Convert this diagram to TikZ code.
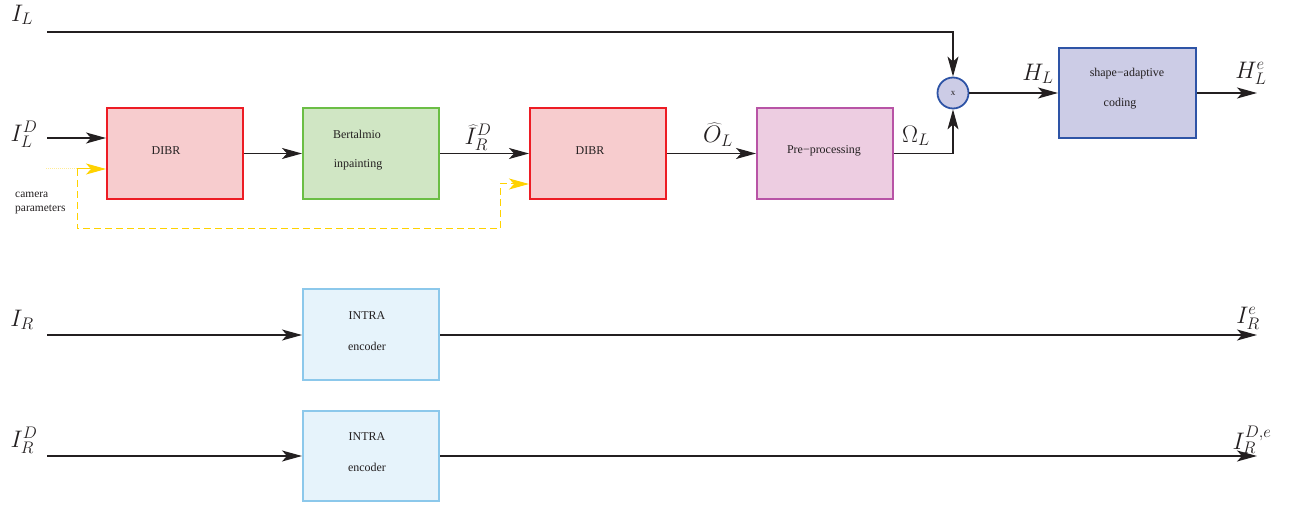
\documentclass[tikz,border=0pt]{standalone}
\usepackage{fix-cm}
\usepackage{fontspec}
\setmainfont{Liberation Serif}
\usetikzlibrary{arrows.meta}
\definecolor{lin}{RGB}{35,31,32}
\definecolor{dibrB}{RGB}{237,28,36}
\definecolor{dibrF}{RGB}{247,204,206}
\definecolor{bertB}{RGB}{107,190,69}
\definecolor{bertF}{RGB}{208,230,196}
\definecolor{preB}{RGB}{184,84,166}
\definecolor{preF}{RGB}{237,205,225}
\definecolor{sacB}{RGB}{46,84,166}
\definecolor{sacF}{RGB}{204,204,230}
\definecolor{intB}{RGB}{140,200,235}
\definecolor{intF}{RGB}{230,243,251}
\definecolor{yel}{RGB}{255,210,0}
\definecolor{yelL}{RGB}{255,236,150}
\begin{document}
\begin{tikzpicture}[x=1bp,y=-1bp,
  box/.style={draw, line width=2bp, minimum width=136bp, minimum height=91bp, inner sep=0pt},
  btxt/.style={font=\fontsize{12}{14}\selectfont, inner sep=0pt, text=lin},
  lab/.style={font=\fontsize{24}{28}\selectfont, inner sep=0pt, text=lin},
  conn/.style={draw=lin, line width=1.3bp},
  arr/.style={conn, -{Stealth[length=20bp,width=11bp,inset=5bp]}},
  yarr/.style={draw=yel, line width=1bp, -{Stealth[length=20bp,width=11bp,inset=5bp]}},
  ydash/.style={draw=yel, line width=1bp, dash pattern=on 7bp off 4bp}
]
\useasboundingbox (0,0) rectangle (1289,506);

% boxes
\node[box, draw=dibrB, fill=dibrF] (dibr1) at (175,153.5) {};
\node[box, draw=bertB, fill=bertF] (bert) at (371,153.5) {};
\node[box, draw=dibrB, fill=dibrF] (dibr2) at (598,153.5) {};
\node[box, draw=preB, fill=preF] (pre) at (825,153.5) {};
\node[box, draw=sacB, fill=sacF, minimum width=137bp, minimum height=90bp] (sac) at (1127.5,93) {};
\node[box, draw=intB, fill=intF] (intra1) at (371,334.5) {};
\node[box, draw=intB, fill=intF, minimum height=90bp] (intra2) at (371,456) {};
\node[circle, draw=sacB, fill=sacF, line width=1.8bp, minimum size=31bp, inner sep=0pt,
      font=\fontsize{9}{10}\selectfont, text=lin] (mul) at (953,93) {x};

% box texts
\node[btxt] (t1) at (166,151) {DIBR};
\node[btxt] (t2) at (357,134) {Bertalmio};
\node[btxt] (t3) at (358,165) {inpainting};
\node[btxt] (t4) at (590,151) {DIBR};
\node[btxt] (t5) at (824,151) {Pre−processing};
\node[btxt] (t6) at (1127,74) {shape−adaptive};
\node[btxt] (t7) at (1120,104) {coding};
\node[btxt] (t8) at (367,316) {INTRA};
\node[btxt] (t9) at (367,346) {encoder};
\node[btxt] (t10) at (367,437) {INTRA};
\node[btxt] (t11) at (367,467) {encoder};
\node[btxt, anchor=west, align=left, font=\fontsize{11.5}{15}\selectfont] (cam) at (15,203) {camera\\parameters};

% math labels
\node[lab] (lIL) at (22,15) {$I_L$};
\node[lab] (lILD) at (24,134) {$I_L^D$};
\node[lab] (lIR) at (22,320) {$I_R$};
\node[lab] (lIRD) at (24,440) {$I_R^D$};
\node[lab] (lIhat) at (478,137) {$\widehat{I}_R^D$};
\node[lab] (lOhat) at (718,135) {$\widehat{O}_L$};
\node[lab] (lOm) at (916,136) {$\Omega_L$};
\node[lab] (lHL) at (1038,74) {$H_L$};
\node[lab] (lHLe) at (1251,73) {$H_L^e$};
\node[lab] (lIRe) at (1248,318) {$I_R^e$};
\node[lab] (lIRDe) at (1252,440) {$I_R^{D,e}$};

% coordinates
\coordinate (sIL) at (47,32);
\coordinate (sILD) at (47,138);
\coordinate (sIR) at (47,335);
\coordinate (sIRD) at (47,456);
\coordinate (eHL) at (1257,93);
\coordinate (eIR) at (1257,335);
\coordinate (eIRD) at (1257,456);
\coordinate (ycam) at (46,169);
\coordinate (ysplit) at (77,169);
\coordinate (ycorner1) at (77,229);
\coordinate (ycorner2) at (500,229);
\coordinate (yup) at (500,184);

% connectors
\draw[arr] (sIL) -| (mul.north);
\draw[arr] (pre.east) -| (mul.south);
\draw[arr] (mul.east) -- (sac.west);
\draw[arr] (sac.east) -- (eHL);
\draw[arr] (sILD) -- (sILD -| dibr1.west);
\draw[arr] (dibr1.east) -- (bert.west);
\draw[arr] (bert.east) -- (dibr2.west);
\draw[arr] (dibr2.east) -- (pre.west);
\draw[arr] (sIR) -- (sIR -| intra1.west);
\draw[arr] (intra1.east |- sIR) -- (eIR);
\draw[arr] (sIRD) -- (sIRD -| intra2.west);
\draw[arr] (intra2.east |- sIRD) -- (eIRD);

% camera parameters (yellow)
\draw[draw=yelL, line width=1bp, densely dotted] (ycam) -- (ysplit);
\draw[yarr] (ysplit) -- (ysplit -| dibr1.west);
\draw[ydash] (ysplit) -- (ycorner1) -- (ycorner2) -- (yup);
\draw[yarr, dash pattern=on 7bp off 4bp] (yup) -- (yup -| dibr2.west);
\end{tikzpicture}
\end{document}
